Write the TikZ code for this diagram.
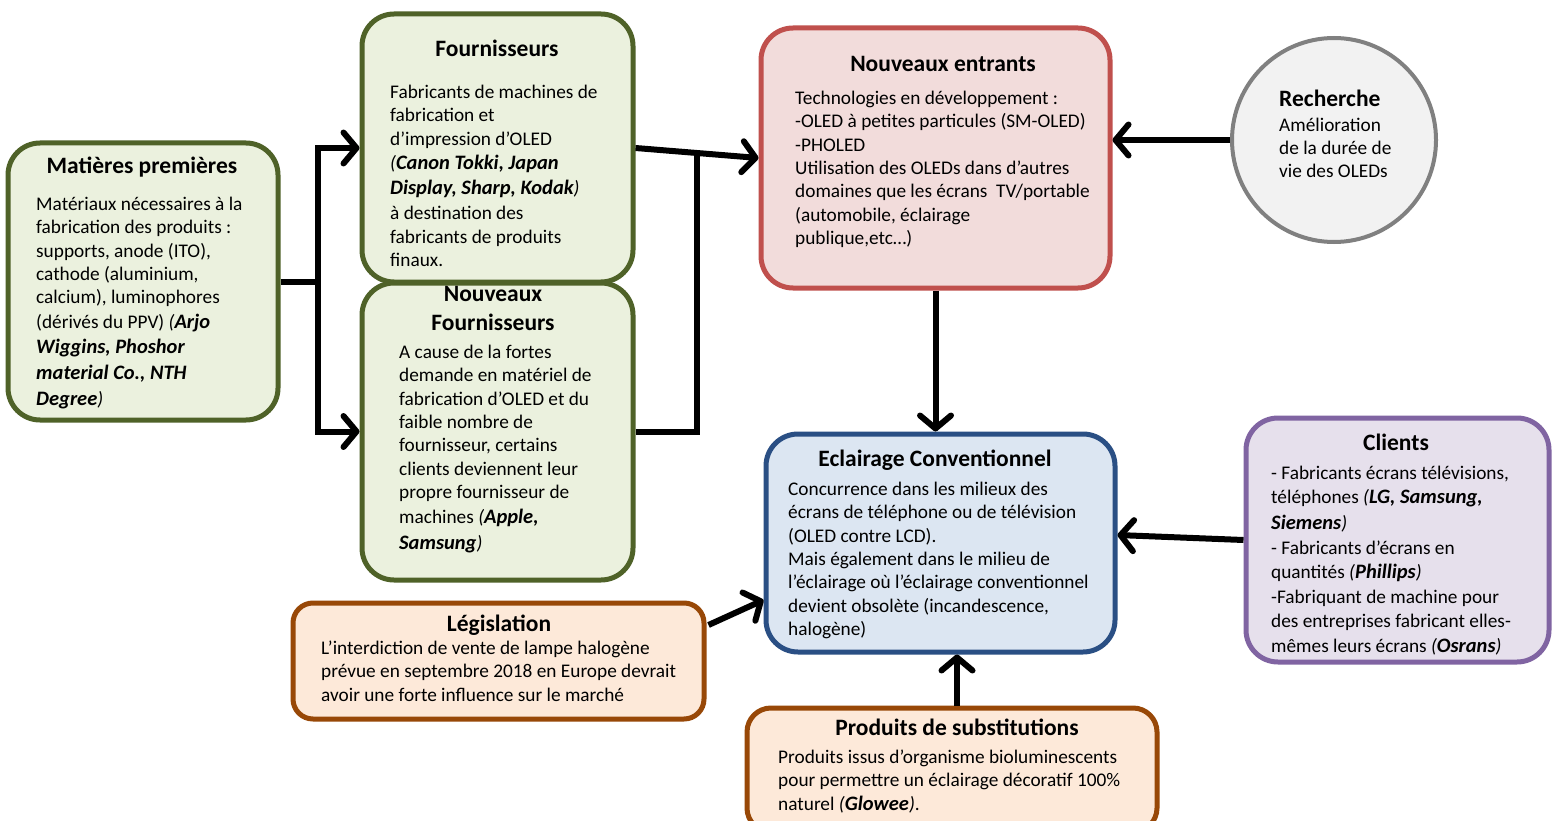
\documentclass[tikz,border=0pt]{standalone}
\usepackage{fontspec}
\setmainfont{Carlito}
\usetikzlibrary{arrows.meta,calc}
\definecolor{gB}{HTML}{4F6228}\definecolor{gF}{HTML}{EBF1DE}
\definecolor{rB}{HTML}{C0504D}\definecolor{rF}{HTML}{F2DCDB}
\definecolor{kB}{HTML}{808080}\definecolor{kF}{HTML}{F2F2F2}
\definecolor{bB}{HTML}{2A4F84}\definecolor{bF}{HTML}{DCE6F2}
\definecolor{pB}{HTML}{8064A2}\definecolor{pF}{HTML}{E6E0EC}
\definecolor{oB}{HTML}{984807}\definecolor{oF}{HTML}{FDE9D9}
\newcommand\co[1]{{\fontsize{20.5}{23.3}\selectfont\bfseries\itshape #1}}
\newcommand\ip[1]{\textit{#1}}
\newcommand\fl{\rule{0pt}{14pt}}
\tikzset{
  x=1pt,y=-1pt,
  box/.style={draw,line width=5pt,rounded corners=32pt,inner sep=0pt},
  ttl/.style={font=\fontsize{23.5}{29}\selectfont\bfseries,align=center,inner sep=0pt},
  bdy/.style={font=\fontsize{19.3}{23.4}\selectfont,align=left,inner sep=0pt,anchor=north west,yshift=14pt},
  conn/.style={line width=6pt,-{Straight Barb[length=13pt,width=31pt,round]}},
  wire/.style={line width=6pt},
}
\begin{document}
\begin{tikzpicture}
\clip (0,0) rectangle (1552,821);
\fill[white] (0,0) rectangle (1552,821);
% boxes
\node[box,draw=gB,fill=gF,minimum width=270pt,minimum height=277pt] (mp) at (143,281.5) {};
\node[box,draw=gB,fill=gF,minimum width=271pt,minimum height=268pt] (f) at (497.5,148) {};
\node[box,draw=gB,fill=gF,minimum width=271pt,minimum height=297pt] (nf) at (497.5,431.5) {};
\node[box,draw=rB,fill=rF,minimum width=349pt,minimum height=260pt] (ne) at (935.5,158) {};
\node[circle,draw=kB,fill=kF,line width=4pt,minimum size=204pt,inner sep=0pt] (rc) at (1334,140) {};
\node[box,draw=bB,fill=bF,minimum width=349pt,minimum height=218pt] (ec) at (940.5,543) {};
\node[box,draw=pB,fill=pF,minimum width=303pt,minimum height=244pt] (cl) at (1397.5,540) {};
\node[box,draw=oB,fill=oF,rounded corners=20pt,minimum width=411pt,minimum height=116pt] (lg) at (498.5,661) {};
\node[box,draw=oB,fill=oF,rounded corners=24pt,minimum width=410pt,minimum height=124pt] (ps) at (952,770) {};
% titles
\node[ttl] (mpT) at (142,167) {Matières premières};
\node[ttl] (fT) at (497,48) {Fournisseurs};
\node[ttl] (nfT) at (493,308.5) {Nouveaux\\Fournisseurs};
\node[ttl] (neT) at (943,64) {Nouveaux entrants};
\node[ttl,anchor=west] (rcT) at (1279,98) {Recherche};
\node[ttl] (ecT) at (935,460) {Eclairage Conventionnel};
\node[ttl] (clT) at (1396,442) {Clients};
\node[ttl] (lgT) at (499,625) {Législation};
\node[ttl] (psT) at (957,727) {Produits de substitutions};
% bodies
\node[bdy] (mpB) at (36,210) {\fl Matériaux nécessaires à la\\fabrication des produits :\\supports, anode (ITO),\\cathode (aluminium,\\calcium), luminophores\\[1pt](dérivés du PPV) \ip{(}\co{Arjo}\\[2pt]\co{Wiggins, Phoshor}\\[2.5pt]\co{material Co., NTH}\\[3pt]\co{Degree}\ip{)}};
\node[bdy] (fB) at (390,98) {\fl Fabricants de machines de\\fabrication et\\d’impression d’OLED\\[1.5pt]\ip{(}\co{Canon Tokki, Japan}\\[1.5pt]\co{Display, Sharp, Kodak}\ip{)}\\[1.5pt]à destination des\\fabricants de produits\\finaux.};
\node[bdy] (nfB) at (399,358) {\fl A cause de la fortes\\demande en matériel de\\fabrication d’OLED et du\\faible nombre de\\fournisseur, certains\\clients deviennent leur\\propre fournisseur de\\[1.5pt]machines \ip{(}\co{Apple,}\\[2.5pt]\co{Samsung}\ip{)}};
\node[bdy] (neB) at (795,104) {\fl Technologies en développement :\\-OLED à petites particules (SM-OLED)\\-PHOLED\\Utilisation des OLEDs dans d’autres\\domaines que les écrans\ \ TV/portable\\(automobile, éclairage\\publique,etc…)};
\node[bdy] (rcB) at (1279,131) {\fl Amélioration\\de la durée de\\vie des OLEDs};
\node[bdy] (ecB) at (788,495) {\fl Concurrence dans les milieux des\\écrans de téléphone ou de télévision\\(OLED contre LCD).\\Mais également dans le milieu de\\l’éclairage où l’éclairage conventionnel\\devient obsolète (incandescence,\\halogène)};
\node[bdy] (clB) at (1271,479) {\fl - Fabricants écrans télévisions,\\[1pt]téléphones \ip{(}\co{LG, Samsung,}\\[2.5pt]\co{Siemens}\ip{)}\\[1.5pt]- Fabricants d’écrans en\\[1pt]quantités \ip{(}\co{Phillips}\ip{)}\\[1.5pt]-Fabriquant de machine pour\\des entreprises fabricant elles-\\[1.5pt]mêmes leurs écrans \ip{(}\co{Osrans}\ip{)}};
\node[bdy] (lgB) at (321,654) {\fl L’interdiction de vente de lampe halogène\\prévue en septembre 2018 en Europe devrait\\avoir une forte influence sur le marché};
\node[bdy] (psB) at (778,763) {\fl Produits issus d’organisme bioluminescents\\pour permettre un éclairage décoratif 100\%\\naturel \ip{(}\co{Glowee}\ip{)}.};
% connectors
\coordinate (mpj) at (318,281.5);
\draw[wire] (mp.east) -- (mpj);
\draw[conn] (mpj) |- (f.west);
\draw[conn] (mpj) |- (nf.west);
\draw[conn] (f.east) -- (ne.west);
\coordinate (nfj) at (697,156);
\draw[wire] (nf.east) -| (nfj);
\draw[conn] (rc.west) -- (rc.west -| ne.east);
\draw[conn] (ne.south) -- (ne.south |- ec.north);
\draw[conn] (cl.west) -- ($(ec.east)+(0,-8)$);
\draw[conn] ($(lg.east)+(2,-36)$) -- ($(ec.west)+(0,57)$);
\coordinate (psj) at ($(ps.north)+(5,0)$);
\draw[conn] (psj) -- (psj |- ec.south);
\end{tikzpicture}
\end{document}
